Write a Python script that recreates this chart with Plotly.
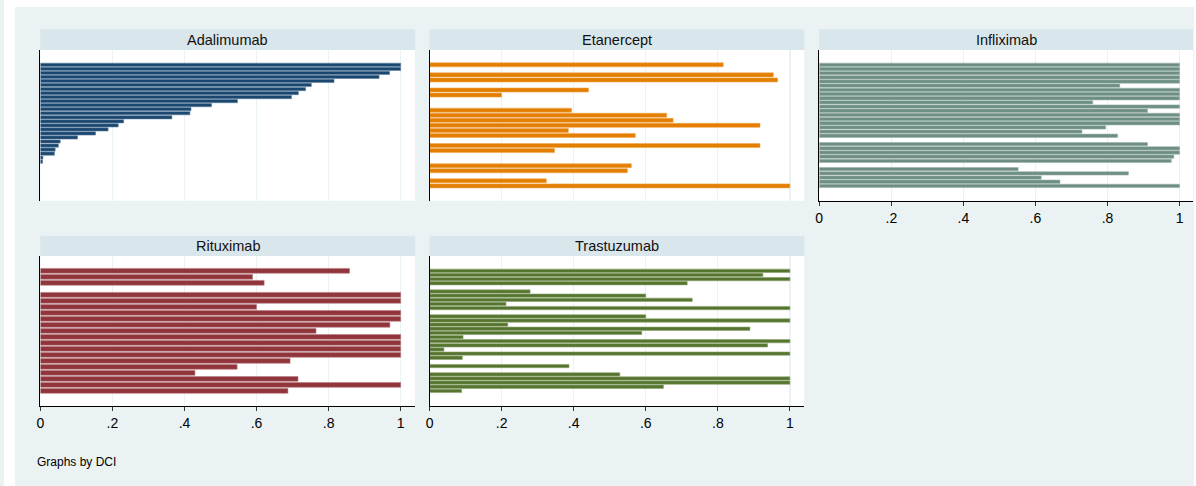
import plotly.graph_objects as go

W, H = 1196, 486

# ---------------- data ----------------
drugs = ["Adalimumab", "Etanercept", "Infliximab", "Rituximab", "Trastuzumab"]

adalimumab = [1.0, 1.0, 0.969, 0.940, 0.815, 0.752, 0.736, 0.716, 0.697, 0.547,
              0.475, 0.418, 0.415, 0.365, 0.231, 0.216, 0.188, 0.153, 0.103, 0.055,
              0.050, 0.041, 0.039, 0.007, 0.006, None, None, None, None, None, None]

etanercept = [0.815, None, 0.954, 0.966, None, 0.441, 0.200, None, None, 0.394,
              0.658, 0.676, 0.917, 0.385, 0.571, None, 0.917, 0.347, None, None,
              0.560, 0.549, None, 0.324, 1.0]

infliximab = [1.0, 1.0, 1.0, 1.0, 1.0, 0.834, 1.0, 1.0, 1.0, 0.759,
              1.0, 0.911, 1.0, 1.0, 1.0, 0.795, 0.729, 0.828, None, 0.911,
              1.0, 1.0, 0.984, 0.977, None, 0.552, 0.858, 0.616, 0.668, 1.0]

rituximab = [0.858, 0.589, 0.621, None, 1.0, 1.0, 0.600, 1.0, 1.0, 0.970,
             0.765, 1.0, 1.0, 1.0, 1.0, 0.693, 0.546, 0.429, 0.715, 1.0, 0.687]

trastuzumab = [1.0, 0.925, 1.0, 0.715, None, 0.279, 0.600, 0.729, 0.212, 1.0,
               None, 0.600, 1.0, 0.217, 0.889, 0.589, 0.093, 1.0, 0.938, 0.040,
               1.0, 0.091, None, 0.387, None, 0.528, 1.0, 1.0, 0.649, 0.089]

series = [adalimumab, etanercept, infliximab, rituximab, trastuzumab]

tick_vals = [0, 0.2, 0.4, 0.6, 0.8, 1.0]
tick_text = ["0", ".2", ".4", ".6", ".8", "1"]

note_text = "Graphs by DCI"

# ---------------- style ----------------
bar_colors = ["#1A476F", "#E37E00", "#6E8E84", "#90353B", "#55752F"]
edge_colors = ["#5F7FA0", "#F0A850", "#9BB3AB", "#B87A7F", "#8CA36F"]
BG = "#EAF2F3"
STRIP = "#D9E6EB"
GRID = "#EAF2F3"
FONT = "Liberation Sans, Arial, Helvetica, sans-serif"

# panel geometry in pixels: (x0, x1) and (y_strip_top, y_plot_top, y_plot_bottom)
cols = [(36.5, 412.5), (427, 803), (818, 1193)]
rows = [(29.3, 50, 200.7), (235.7, 256, 405.7)]
ppx = 376 / 1.04  # pixels per unit on value axis
pad = 14.8        # px from plot edge to first/last bar centre

panels = [(0, 0), (0, 1), (0, 2), (1, 0), (1, 1)]
show_axis = [False, False, True, True, True]


def fx(px):
    return px / W


def fy(py):
    return 1 - py / H


fig = go.Figure()
shapes = []
annotations = []

# white margins outside the graph region
shapes.append(dict(type="rect", xref="paper", yref="paper", x0=0, x1=1, y0=fy(7), y1=1,
                   fillcolor="white", line_width=0, layer="below"))
shapes.append(dict(type="rect", xref="paper", yref="paper", x0=0, x1=fx(11), y0=0, y1=1,
                   fillcolor="white", line_width=0, layer="below"))
shapes.append(dict(type="rect", xref="paper", yref="paper", x0=fx(1194), x1=1, y0=0, y1=1,
                   fillcolor="white", line_width=0, layer="below"))

layout_axes = {}
for i, (name, vals) in enumerate(zip(drugs, series)):
    r, c = panels[i]
    x0, x1 = cols[c]
    ys, yt, yb = rows[r]
    n = len(vals)
    k = i + 1
    xa = "xaxis" if k == 1 else f"xaxis{k}"
    ya = "yaxis" if k == 1 else f"yaxis{k}"
    xr = "x" if k == 1 else f"x{k}"
    yr = "y" if k == 1 else f"y{k}"

    fig.add_trace(go.Bar(
        x=vals, y=list(range(n)), orientation="h",
        marker=dict(color=bar_colors[i], line=dict(color=edge_colors[i], width=0.6)),
        xaxis=xr, yaxis=yr, showlegend=False,
    ))

    plot_h = yb - yt
    ppu = (plot_h - 2 * pad) / (n - 1)
    off = pad / ppu

    layout_axes[xa] = dict(
        domain=[fx(x0), fx(x1)], anchor=yr,
        range=[0, (x1 - x0) / ppx],
        tickvals=tick_vals, ticktext=tick_text,
        showticklabels=show_axis[i],
        ticks="outside" if show_axis[i] else "", ticklen=4, tickcolor="#333333",
        tickfont=dict(family=FONT, size=14, color="black"),
        showline=show_axis[i], linecolor="black", linewidth=1,
        showgrid=True, gridcolor=GRID, gridwidth=1.2,
        zeroline=False, fixedrange=True,
    )
    layout_axes[ya] = dict(
        domain=[fy(yb), fy(yt)], anchor=xr,
        range=[n - 1 + off, -off],
        showticklabels=False, ticks="", showgrid=False, zeroline=False,
        showline=True, linecolor="black", linewidth=1, fixedrange=True,
    )

    # white plot region
    shapes.append(dict(type="rect", xref="paper", yref="paper",
                       x0=fx(x0), x1=fx(x1), y0=fy(yb), y1=fy(yt),
                       fillcolor="white", line_width=0, layer="below"))
    # title strip
    shapes.append(dict(type="rect", xref="paper", yref="paper",
                       x0=fx(x0), x1=fx(x1), y0=fy(yt), y1=fy(ys),
                       fillcolor=STRIP, line_width=0, layer="below"))
    annotations.append(dict(text=name, xref="paper", yref="paper",
                            x=fx((x0 + x1) / 2), y=fy((ys + yt) / 2),
                            xanchor="center", yanchor="middle", showarrow=False,
                            font=dict(family=FONT, size=14.5, color="#111111")))

annotations.append(dict(text=note_text, xref="paper", yref="paper",
                        x=fx(31), y=fy(462), xanchor="left", yanchor="middle",
                        showarrow=False, font=dict(family=FONT, size=12, color="black")))

fig.update_layout(
    width=W, height=H,
    margin=dict(l=0, r=0, t=0, b=0),
    paper_bgcolor=BG, plot_bgcolor="rgba(0,0,0,0)",
    bargap=0.2,
    shapes=shapes, annotations=annotations,
    font=dict(family=FONT),
    hovermode=False,
    **layout_axes,
)

fig.write_html(
    "out.html",
    config={"displayModeBar": False, "staticPlot": True},
    post_script="document.body.style.margin='0';document.body.style.padding='0';"
                "document.body.style.overflow='hidden';",
)
